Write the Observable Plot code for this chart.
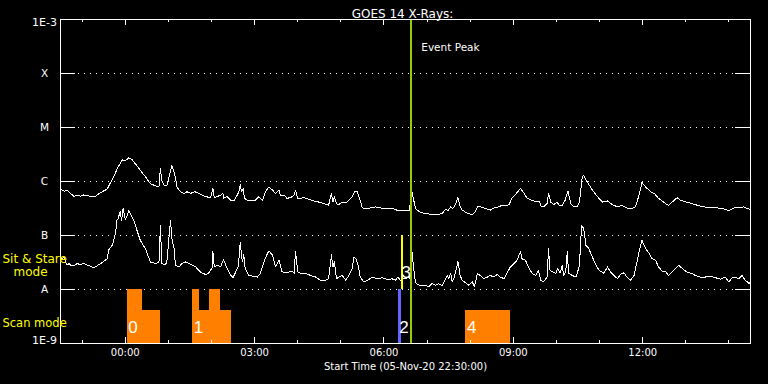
<!DOCTYPE html>
<html>
<head>
<meta charset="utf-8">
<script src="https://cdn.jsdelivr.net/npm/d3@7"></script>
<script src="https://cdn.jsdelivr.net/npm/@observablehq/plot@0.6"></script>
<style>
  html, body { margin: 0; padding: 0; background: #000; }
  #chart { width: 768px; height: 384px; }
</style>
</head>
<body>
<div id="chart"></div>
<script>
// ---- Data (times in minutes after start 05-Nov-20 22:30 UT; flux as log10 W/m^2) ----
const startISO = "2020-11-05T22:30:00Z";
const endMinutes = 960;

// GOES 14 long channel (1-8 Å): [minutes, log10 flux]
const longChannel = [[0,-6.14],[5,-6.18],[9,-6.16],[14,-6.22],[19,-6.28],[23,-6.25],[28,-6.27],[32,-6.25],[37,-6.26],[44,-6.28],[49,-6.27],[53,-6.23],[58,-6.19],[65,-6.14],[70,-6.01],[74,-5.91],[79,-5.76],[83,-5.67],[86,-5.60],[90,-5.62],[95,-5.56],[100,-5.60],[104,-5.67],[111,-5.79],[118,-5.91],[125,-6.04],[132,-6.08],[137,-6.10],[139,-5.76],[141,-5.98],[144,-6.07],[148,-6.07],[153,-5.82],[155,-5.70],[158,-5.82],[160,-5.94],[162,-6.10],[167,-6.19],[172,-6.22],[176,-6.19],[181,-6.22],[186,-6.19],[190,-6.20],[195,-6.24],[202,-6.28],[209,-6.30],[212,-6.12],[214,-6.30],[218,-6.28],[223,-6.25],[226,-6.22],[227,-6.31],[232,-6.28],[237,-6.35],[241,-6.36],[246,-6.25],[249,-6.16],[250,-6.06],[252,-6.19],[254,-6.13],[256,-6.31],[260,-6.35],[267,-6.35],[271,-6.35],[276,-6.28],[278,-6.31],[281,-6.35],[285,-6.19],[290,-6.10],[295,-6.16],[299,-6.22],[304,-6.16],[306,-6.25],[311,-6.25],[315,-6.31],[320,-6.30],[325,-6.25],[327,-6.16],[330,-6.31],[334,-6.31],[339,-6.30],[346,-6.33],[352,-6.36],[359,-6.38],[366,-6.41],[373,-6.44],[377,-6.22],[379,-6.38],[381,-6.28],[384,-6.41],[387,-6.43],[392,-6.38],[399,-6.38],[406,-6.28],[409,-6.19],[413,-6.19],[416,-6.31],[420,-6.49],[424,-6.50],[431,-6.49],[438,-6.47],[445,-6.49],[452,-6.50],[459,-6.50],[464,-6.51],[468,-6.53],[478,-6.53],[486,-6.54],[487,-6.16],[489,-6.19],[492,-6.38],[494,-6.50],[499,-6.56],[506,-6.59],[512,-6.60],[519,-6.62],[526,-6.61],[531,-6.59],[536,-6.51],[539,-6.54],[543,-6.47],[546,-6.50],[550,-6.41],[553,-6.30],[556,-6.47],[559,-6.53],[566,-6.59],[573,-6.61],[577,-6.56],[580,-6.47],[584,-6.47],[591,-6.50],[598,-6.53],[603,-6.49],[610,-6.47],[614,-6.44],[619,-6.45],[624,-6.43],[628,-6.31],[633,-6.24],[640,-6.13],[645,-6.22],[649,-6.31],[656,-6.35],[663,-6.38],[666,-6.36],[669,-6.47],[672,-6.47],[677,-6.41],[679,-6.22],[682,-6.38],[686,-6.43],[691,-6.38],[694,-6.45],[698,-6.44],[702,-6.35],[706,-6.18],[710,-6.41],[714,-6.47],[719,-6.47],[722,-6.38],[726,-5.91],[728,-5.89],[733,-6.01],[740,-6.16],[747,-6.28],[754,-6.38],[761,-6.36],[768,-6.43],[775,-6.47],[781,-6.44],[788,-6.49],[795,-6.50],[800,-6.47],[805,-6.25],[809,-6.02],[814,-6.10],[821,-6.19],[826,-6.22],[832,-6.31],[842,-6.41],[846,-6.44],[851,-6.38],[858,-6.30],[863,-6.35],[870,-6.38],[879,-6.41],[886,-6.44],[895,-6.47],[904,-6.49],[914,-6.49],[923,-6.51],[930,-6.54],[937,-6.49],[944,-6.49],[951,-6.47],[955,-6.50],[960,-6.52]];

// GOES 14 short channel (0.5-4 Å): [minutes, log10 flux]
const shortChannel = [[0,-7.46],[2,-7.43],[5,-7.40],[7,-7.49],[9,-7.55],[12,-7.52],[14,-7.55],[19,-7.56],[23,-7.52],[28,-7.54],[32,-7.51],[37,-7.55],[42,-7.57],[46,-7.60],[51,-7.56],[56,-7.52],[60,-7.48],[65,-7.43],[67,-7.27],[72,-7.18],[74,-7.09],[77,-6.93],[78,-6.72],[80,-6.69],[83,-6.56],[85,-6.72],[87,-6.50],[90,-6.70],[93,-6.62],[95,-6.53],[98,-6.62],[102,-6.72],[107,-6.93],[111,-7.09],[118,-7.24],[125,-7.49],[132,-7.52],[137,-7.49],[139,-6.82],[141,-7.52],[146,-7.54],[148,-7.49],[153,-6.72],[155,-7.06],[158,-7.24],[160,-7.55],[165,-7.58],[169,-7.52],[174,-7.49],[179,-7.52],[183,-7.55],[188,-7.58],[192,-7.64],[197,-7.70],[202,-7.72],[206,-7.70],[211,-7.60],[212,-7.30],[214,-7.58],[218,-7.55],[223,-7.58],[225,-7.49],[227,-7.45],[230,-7.55],[232,-7.61],[237,-7.74],[240,-7.78],[243,-7.70],[247,-7.58],[249,-7.33],[250,-7.13],[253,-7.49],[255,-7.36],[257,-7.61],[262,-7.74],[267,-7.75],[274,-7.77],[278,-7.70],[283,-7.49],[288,-7.33],[290,-7.29],[295,-7.36],[299,-7.58],[304,-7.46],[308,-7.67],[315,-7.69],[322,-7.66],[325,-7.70],[327,-7.30],[330,-7.67],[334,-7.70],[341,-7.70],[348,-7.74],[355,-7.77],[362,-7.83],[369,-7.83],[373,-7.80],[377,-7.36],[379,-7.58],[381,-7.49],[384,-7.80],[387,-7.77],[392,-7.74],[397,-7.83],[401,-7.74],[406,-7.61],[408,-7.40],[411,-7.43],[414,-7.55],[417,-7.77],[422,-7.86],[427,-7.83],[434,-7.77],[441,-7.80],[448,-7.78],[455,-7.82],[461,-7.80],[466,-7.83],[469,-7.77],[473,-7.83],[478,-7.80],[485,-7.78],[486,-7.80],[488,-7.15],[490,-7.43],[493,-7.80],[495,-7.89],[499,-7.92],[503,-7.93],[508,-7.92],[512,-7.95],[517,-7.89],[522,-7.92],[526,-7.89],[531,-7.93],[535,-7.83],[538,-7.74],[540,-7.80],[543,-7.70],[545,-7.86],[548,-7.77],[553,-7.48],[556,-7.74],[559,-7.83],[563,-7.87],[568,-7.92],[573,-7.86],[576,-7.95],[580,-7.70],[584,-7.74],[589,-7.80],[594,-7.77],[598,-7.74],[603,-7.77],[608,-7.72],[612,-7.77],[617,-7.80],[621,-7.70],[626,-7.58],[631,-7.52],[635,-7.46],[640,-7.30],[642,-7.43],[647,-7.46],[652,-7.61],[656,-7.70],[661,-7.74],[665,-7.64],[668,-7.83],[672,-7.86],[677,-7.77],[679,-7.24],[681,-7.64],[684,-7.67],[689,-7.70],[692,-7.61],[695,-7.70],[698,-7.55],[700,-7.74],[703,-7.67],[705,-7.30],[707,-7.70],[712,-7.74],[717,-7.77],[719,-7.70],[722,-7.55],[725,-6.81],[728,-6.87],[731,-7.18],[735,-7.24],[740,-7.40],[744,-7.52],[749,-7.64],[756,-7.70],[761,-7.58],[765,-7.67],[770,-7.74],[775,-7.80],[779,-7.72],[784,-7.69],[788,-7.77],[793,-7.83],[798,-7.74],[802,-7.49],[806,-7.24],[809,-7.09],[814,-7.24],[819,-7.33],[823,-7.43],[828,-7.46],[832,-7.58],[837,-7.66],[842,-7.67],[846,-7.74],[851,-7.67],[856,-7.61],[860,-7.55],[865,-7.61],[870,-7.66],[874,-7.69],[879,-7.70],[883,-7.74],[890,-7.77],[897,-7.77],[904,-7.75],[911,-7.78],[918,-7.81],[925,-7.77],[930,-7.86],[935,-7.77],[939,-7.78],[944,-7.80],[948,-7.74],[953,-7.83],[958,-7.89],[960,-7.86]];

// Scan-mode observations (orange blocks)
const scanStart = [93, 93, 184, 184, 207, 564];
const scanEnd   = [114, 139, 193, 238, 223, 626];
const scanTop   = [1e-8, 4.1e-9, 1e-8, 4.1e-9, 1e-8, 4.1e-9];
// Observation numbers and their start times
const obsIds    = ["0", "1", "2", "4"];
const obsStarts = [93, 184, 470, 564];
// Sit & stare observations
const stareBlueStart = 470, stareBlueEnd = 474;     // obs 2 (blue)
const stareLine = 474.5;                            // obs 3 (yellow)
const stareLow = 1e-8, stareHigh = 1e-7;
const eventPeak = 488;                              // Event Peak time

// Axis labels
const yTickValues = [1e-8, 1e-7, 1e-6, 1e-5, 1e-4];
const yTickLabels = ["A", "B", "C", "M", "X"];
const yEndValues = [1e-9, 1e-3];
const yEndLabels = ["1E-9", "1E-3"];
const xMajorLabels = ["00:00", "03:00", "06:00", "09:00", "12:00"];
const xMajorDay = "2020-11-06";

// ---- helpers ----
const t0 = new Date(startISO).getTime();
const T = m => new Date(t0 + m * 60000);
const hourTicks = d3.utcHour.range(T(1), T(endMinutes));
const majorDates = xMajorLabels.map(s => new Date(`${xMajorDay}T${s}:00Z`));
const minorDates = hourTicks.filter(d => d.getUTCHours() % 3 !== 0);

const scans = scanStart.map((s, i) => ({s, e: scanEnd[i], top: scanTop[i]}));
const obs = obsIds.map((id, i) => ({id, t: obsStarts[i]}));

const font = "DejaVu Sans, sans-serif";
const digitFont = "Liberation Sans Narrow, Liberation Sans, sans-serif";
const frameH = 384 - 19 - 41;
const frameW = 768 - 60 - 18;

const chart = Plot.plot({
  width: 768,
  height: 384,
  marginLeft: 60,
  marginRight: 18,
  marginTop: 19,
  marginBottom: 41,
  style: {background: "black", color: "white", fontFamily: font, overflow: "visible", shapeRendering: "crispEdges"},
  x: {type: "utc", domain: [T(0), T(endMinutes)], axis: null},
  y: {type: "log", domain: [1e-9, 1e-3], axis: null},
  marks: [
    // dotted grid
    Plot.ruleY(yTickValues, {stroke: "white", strokeDasharray: "1,5"}),
    // solid stubs on both sides
    Plot.tickY(yTickValues, {stroke: "white", insetRight: frameW - 15}),
    Plot.tickY(yTickValues, {stroke: "white", insetLeft: frameW - 15}),
    // curves
    Plot.line(longChannel, {x: d => T(d[0]), y: d => 10 ** d[1], stroke: "white", strokeWidth: 1}),
    Plot.line(shortChannel, {x: d => T(d[0]), y: d => 10 ** d[1], stroke: "white", strokeWidth: 1}),
    // scan blocks
    Plot.rect(scans, {x1: d => T(d.s), x2: d => T(d.e), y1: 1e-9, y2: d => d.top, fill: "#ff8000"}),
    // sit & stare (blue block, yellow line)
    Plot.rect([0], {x1: () => T(stareBlueStart), x2: () => T(stareBlueEnd), y1: 1e-9, y2: stareLow, fill: "#6464ff"}),
    Plot.ruleX([stareLine], {x: d => T(d), y1: stareLow, y2: stareHigh, stroke: "#ffff00", strokeWidth: 2}),
    // event peak
    Plot.ruleX([eventPeak], {x: d => T(d), stroke: "#99cc00", strokeWidth: 2}),
    Plot.text([eventPeak], {x: d => T(d), text: () => "Event Peak", frameAnchor: "top", dy: 24, dx: 10, textAnchor: "start", fill: "white", fontSize: 10.5}),
    // observation numbers
    Plot.text(obs, {x: d => T(d.t), text: "id", frameAnchor: "bottom", dy: -11, dx: 1, textAnchor: "start", fill: "white", fontSize: 17, fontFamily: digitFont}),
    Plot.text([stareLine], {x: d => T(d), y: 2.1e-8, text: () => "3", textAnchor: "start", dx: 0, fill: "white", fontSize: 17, fontFamily: digitFont}),
    // frame
    Plot.frame({stroke: "white"}),
    // x ticks (bottom & top, inside)
    Plot.tickX(minorDates, {x: d => d, stroke: "white", insetTop: frameH - 3}),
    Plot.tickX(majorDates, {x: d => d, stroke: "white", insetTop: frameH - 6}),
    Plot.tickX(minorDates, {x: d => d, stroke: "white", insetBottom: frameH - 3}),
    Plot.tickX(majorDates, {x: d => d, stroke: "white", insetBottom: frameH - 6}),
    // x labels
    Plot.text(xMajorLabels, {x: (d, i) => majorDates[i], text: d => d, frameAnchor: "bottom", dy: 12, fill: "white", fontSize: 10}),
    Plot.text(["Start Time (05-Nov-20 22:30:00)"], {frameAnchor: "bottom", dy: 26, fill: "white", fontSize: 10}),
    // y labels
    Plot.text(yTickLabels, {y: (d, i) => yTickValues[i], text: d => d, frameAnchor: "left", dx: -16, textAnchor: "middle", fill: "white", fontSize: 10.5}),
    Plot.text([yEndLabels[0]], {y: () => yEndValues[0], text: d => d, frameAnchor: "left", dx: -16, dy: -3, textAnchor: "middle", fill: "white", fontSize: 11}),
    Plot.text([yEndLabels[1]], {y: () => yEndValues[1], text: d => d, frameAnchor: "left", dx: -16, dy: 3, textAnchor: "middle", fill: "white", fontSize: 11}),
    // title
    Plot.text(["GOES 14 X-Rays:"], {frameAnchor: "top", dy: -10, dx: -3, fill: "white", fontSize: 12}),
    // mode labels
    Plot.text(["Sit & Stare"], {y: () => Math.sqrt(stareLow * stareHigh), frameAnchor: "left", dx: -58, dy: -3, textAnchor: "start", fill: "#ffff00", fontSize: 12}),
    Plot.text(["mode"], {y: () => Math.sqrt(stareLow * stareHigh), frameAnchor: "left", dx: -47, dy: 10, textAnchor: "start", fill: "#ffff00", fontSize: 12}),
    Plot.text(["Scan mode"], {y: () => Math.sqrt(1e-9 * stareLow), frameAnchor: "left", dx: -58, dy: 7, textAnchor: "start", fill: "#ffff00", fontSize: 11.5})
  ]
});
document.getElementById("chart").appendChild(chart);
</script>
</body>
</html>
